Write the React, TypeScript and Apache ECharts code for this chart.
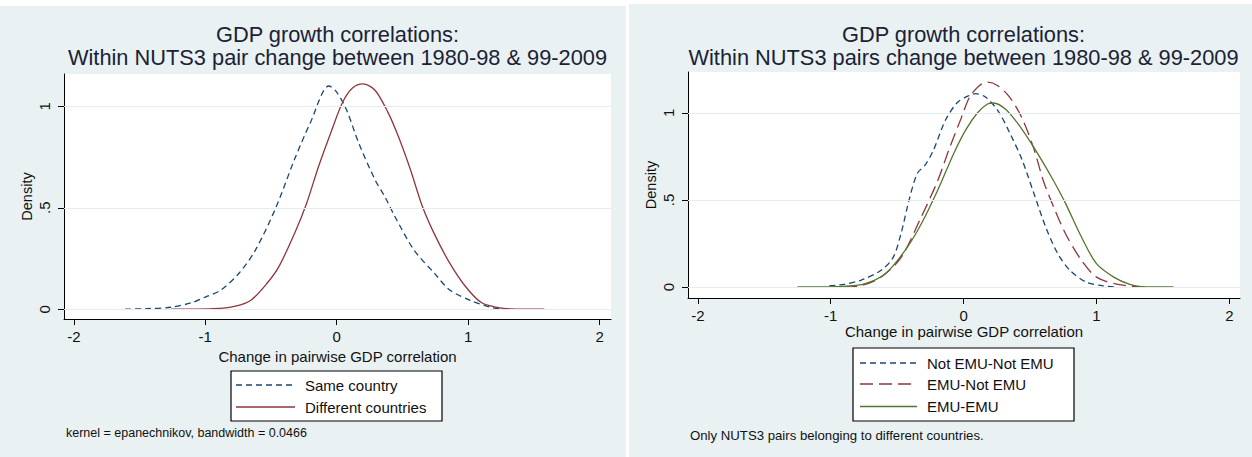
import React, { useEffect, useRef } from 'react';
import * as echarts from 'echarts';

// ---- Left panel: Same country vs Different countries ----
const sameX = [-1.61, -1.45, -1.26, -1.1, -1.0, -0.88, -0.74, -0.62, -0.47, -0.32, -0.2, -0.06, 0.0, 0.076, 0.167, 0.29, 0.37, 0.44, 0.59, 0.74, 0.86, 1.02, 1.17, 1.26];
const sameY = [0, 0.003, 0.01, 0.033, 0.06, 0.095, 0.18, 0.29, 0.49, 0.74, 0.92, 1.1, 1.07, 0.98, 0.82, 0.64, 0.55, 0.46, 0.29, 0.18, 0.095, 0.043, 0.01, 0];
const diffX = [-1.26, -0.94, -0.77, -0.65, -0.53, -0.44, -0.32, -0.23, -0.14, -0.045, 0.045, 0.12, 0.2, 0.29, 0.39, 0.47, 0.56, 0.65, 0.74, 0.86, 0.98, 1.1, 1.23, 1.32, 1.58];
const diffY = [0, 0.003, 0.016, 0.046, 0.128, 0.21, 0.375, 0.52, 0.7, 0.87, 1.02, 1.09, 1.11, 1.08, 0.97, 0.85, 0.69, 0.51, 0.375, 0.227, 0.112, 0.033, 0.008, 0.002, 0];

// ---- Right panel: EMU groups ----
const notNotX = [-1.01, -0.9, -0.77, -0.62, -0.53, -0.47, -0.41, -0.35, -0.29, -0.23, -0.135, -0.045, 0.045, 0.09, 0.165, 0.26, 0.35, 0.44, 0.53, 0.62, 0.71, 0.8, 0.92, 1.04, 1.14];
const notNotY = [0.008, 0.015, 0.04, 0.096, 0.17, 0.31, 0.5, 0.65, 0.7, 0.78, 0.96, 1.06, 1.1, 1.11, 1.09, 1.01, 0.88, 0.73, 0.535, 0.34, 0.19, 0.096, 0.029, 0.008, 0];
const emuNotX = [-0.9, -0.77, -0.62, -0.47, -0.32, -0.195, -0.105, -0.015, 0.045, 0.12, 0.18, 0.255, 0.346, 0.436, 0.526, 0.6, 0.677, 0.767, 0.887, 1.0, 1.16, 1.34];
const emuNotY = [0, 0.008, 0.057, 0.17, 0.4, 0.61, 0.8, 0.975, 1.09, 1.157, 1.176, 1.157, 1.09, 0.975, 0.8, 0.61, 0.46, 0.306, 0.153, 0.057, 0.015, 0];
const emuEmuX = [-1.25, -0.92, -0.74, -0.59, -0.44, -0.32, -0.195, -0.075, 0.015, 0.105, 0.18, 0.226, 0.316, 0.406, 0.496, 0.586, 0.677, 0.767, 0.887, 1.0, 1.13, 1.25, 1.34, 1.58];
const emuEmuY = [0, 0.004, 0.02, 0.076, 0.21, 0.36, 0.555, 0.765, 0.9, 1.0, 1.05, 1.056, 1.02, 0.94, 0.84, 0.73, 0.61, 0.48, 0.287, 0.134, 0.057, 0.015, 0.002, 0];

const xTicks = [-2, -1, 0, 1, 2];
const yTicks = [0, 0.5, 1];

const leftTitle = ['GDP growth correlations:', 'Within NUTS3 pair change between 1980-98 & 99-2009'];
const rightTitle = ['GDP growth correlations:', 'Within NUTS3 pairs change between 1980-98 & 99-2009'];
const xName = 'Change in pairwise GDP correlation';
const yName = 'Density';
const leftLegend = ['Same country', 'Different countries'];
const rightLegend = ['Not EMU-Not EMU', 'EMU-Not EMU', 'EMU-EMU'];
const leftNote = 'kernel = epanechnikov, bandwidth = 0.0466';
const rightNote = 'Only NUTS3 pairs belonging to different countries.';

const FONT = '"Liberation Sans", Arial, Helvetica, sans-serif';
const TXT = '#111';
const TITLE = '#1c2236';
const BG = '#e9f1f3';
const NAVY = '#1a476f';
const MAROON = '#90353b';
const GREEN = '#55752f';
const GRIDLINE = '#e4ecf0';
const SHORT_DASH = [6, 4];
const LONG_DASH = [13, 6];

function pairs(xs: number[], ys: number[]) {
  return xs.map((x, i) => [x, ys[i]]);
}

export default function App() {
  const ref = useRef<HTMLDivElement>(null);
  useEffect(() => {
    document.body.style.margin = '0';
    const chart = echarts.init(ref.current!, null, { renderer: 'svg' });

    const xAxis = (gridIndex: number, min: number, max: number, nameGap: number) => ({
      type: 'value', gridIndex, min, max,
      axisLine: { show: true, onZero: false, lineStyle: { color: '#000', width: 1 } },
      axisTick: { show: true, length: 6, customValues: xTicks, lineStyle: { color: '#000' } },
      axisLabel: { customValues: xTicks, margin: 10, color: TXT, fontSize: 15, fontFamily: FONT },
      splitLine: { show: false },
      name: xName, nameLocation: 'middle', nameGap,
      nameTextStyle: { color: TXT, fontSize: 15, fontFamily: FONT },
    });
    const yAxis = (gridIndex: number, min: number, max: number) => ({
      type: 'value', gridIndex, min, max,
      axisLine: { show: true, onZero: false, lineStyle: { color: '#000', width: 1 } },
      axisTick: { show: true, length: 6, customValues: yTicks, lineStyle: { color: '#000' } },
      axisLabel: {
        customValues: yTicks, margin: 12, rotate: 90, color: TXT, fontSize: 15, fontFamily: FONT,
        formatter: (v: number) => (v === 0.5 ? '.5' : String(v)),
      },
      splitLine: { show: false },
      name: yName, nameLocation: 'middle', nameGap: 30, nameRotate: 90,
      nameTextStyle: { color: TXT, fontSize: 14.5, fontFamily: FONT },
    });
    const curve = (xi: number, data: number[][], color: string, type: any) => ({
      type: 'line', xAxisIndex: xi, yAxisIndex: xi, data, showSymbol: false, smooth: 0.3,
      lineStyle: { color, width: 1.3, type }, z: 3, silent: true,
    });
    const gridLines = (xi: number) => ({
      type: 'line', xAxisIndex: xi, yAxisIndex: xi, data: [], z: 1, silent: true,
      markLine: {
        silent: true, symbol: ['none', 'none'], label: { show: false },
        lineStyle: { color: GRIDLINE, type: 'solid', width: 1 },
        data: yTicks.map((v) => ({ yAxis: v })),
      },
    });

    const text = (x: number, y: number, t: string, size: number, align: string, fill = TXT) => ({
      type: 'text', x, y, silent: true,
      style: { text: t, fill, font: `${size}px ${FONT}`, align, verticalAlign: 'middle' },
    });
    const lineEl = (x1: number, x2: number, y: number, color: string, dash: any) => ({
      type: 'line', silent: true,
      shape: { x1, y1: y, x2, y2: y },
      style: { stroke: color, lineWidth: 1.3, lineDash: dash },
    });

    const graphic: any[] = [
      text(337.5, 34, leftTitle[0], 21.8, 'center', TITLE),
      text(337.5, 57, leftTitle[1], 21.8, 'center', TITLE),
      text(963.5, 34, rightTitle[0], 21.8, 'center', TITLE),
      text(963.5, 57, rightTitle[1], 21.8, 'center', TITLE),
      // left legend
      { type: 'rect', silent: true, shape: { x: 231, y: 371, width: 211, height: 50 }, style: { fill: '#fff', stroke: '#000', lineWidth: 1.2 } },
      lineEl(236, 295, 385, NAVY, SHORT_DASH),
      text(305, 385, leftLegend[0], 15, 'left'),
      lineEl(236, 295, 407, MAROON, null),
      text(305, 407, leftLegend[1], 15, 'left'),
      text(66, 433, leftNote, 12.5, 'left'),
      // right legend
      { type: 'rect', silent: true, shape: { x: 853, y: 348, width: 221, height: 73 }, style: { fill: '#fff', stroke: '#000', lineWidth: 1.2 } },
      lineEl(860, 917, 363, NAVY, SHORT_DASH),
      text(927, 363, rightLegend[0], 15, 'left'),
      lineEl(860, 917, 384, MAROON, LONG_DASH),
      text(927, 384, rightLegend[1], 15, 'left'),
      lineEl(860, 917, 406.5, GREEN, null),
      text(927, 406.5, rightLegend[2], 15, 'left'),
      text(690, 435, rightNote, 13.2, 'left'),
    ];

    chart.setOption({
      animation: false,
      grid: [
        { left: 64, top: 74, width: 547, height: 245, show: true, backgroundColor: '#fff', borderWidth: 0 },
        { left: 688, top: 72, width: 552, height: 226, show: true, backgroundColor: '#fff', borderWidth: 0 },
      ],
      xAxis: [xAxis(0, -2.075, 2.087, 21), xAxis(1, -2.074, 2.08, 21)],
      yAxis: [yAxis(0, -0.048, 1.159), yAxis(1, -0.063, 1.234)],
      series: [
        gridLines(0),
        gridLines(1),
        curve(0, pairs(sameX, sameY), NAVY, SHORT_DASH),
        curve(0, pairs(diffX, diffY), MAROON, 'solid'),
        curve(1, pairs(notNotX, notNotY), NAVY, SHORT_DASH),
        curve(1, pairs(emuNotX, emuNotY), MAROON, LONG_DASH),
        curve(1, pairs(emuEmuX, emuEmuY), GREEN, 'solid'),
      ],
      graphic,
    });
    return () => chart.dispose();
  }, []);

  return (
    <div style={{ position: 'relative', width: 1252, height: 457, background: '#fff', overflow: 'hidden' }}>
      <div style={{ position: 'absolute', left: 0, top: 6, width: 626, height: 451, background: BG }} />
      <div style={{ position: 'absolute', left: 629, top: 4, width: 623, height: 453, background: BG }} />
      <div ref={ref} style={{ position: 'absolute', left: 0, top: 0, width: 1252, height: 457 }} />
    </div>
  );
}
